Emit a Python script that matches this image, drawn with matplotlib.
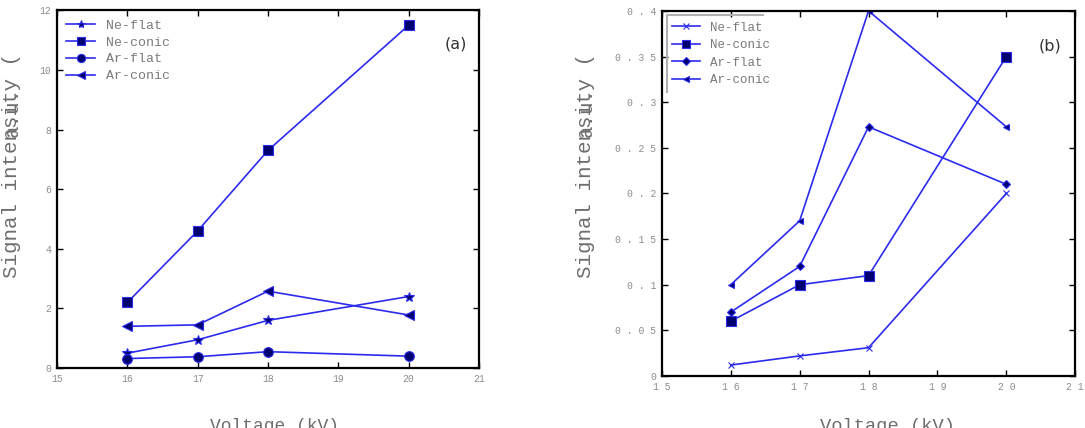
import matplotlib.pyplot as plt
from matplotlib.ticker import FuncFormatter

voltage = [16, 17, 18, 20]

# panel (a)
a_ne_flat = [0.5, 0.95, 1.6, 2.4]
a_ne_conic = [2.2, 4.6, 7.3, 11.5]
a_ar_flat = [0.32, 0.38, 0.55, 0.4]
a_ar_conic = [1.4, 1.45, 2.58, 1.78]

# panel (b)
b_ne_flat = [0.012, 0.022, 0.031, 0.2]
b_ne_conic = [0.06, 0.1, 0.11, 0.35]
b_ar_flat = [0.07, 0.12, 0.273, 0.21]
b_ar_conic = [0.1, 0.17, 0.4, 0.273]

labels = ["Ne-flat", "Ne-conic", "Ar-flat", "Ar-conic"]

plt.rcParams['font.family'] = ['Liberation Mono', 'DejaVu Sans Mono']

fig = plt.figure(figsize=(10.85, 4.28), dpi=100)
ax1 = fig.add_axes([0.0525, 0.140, 0.389, 0.836])
ax2 = fig.add_axes([0.610, 0.1215, 0.381, 0.853])

line_c = "#2b2bef"
face_c = "#000070"
tick_c = "#8c8c8c"
label_c = "#6e6e6e"


def style(ax):
    for s in ax.spines.values():
        s.set_linewidth(1.6)
    ax.tick_params(direction="in", top=True, right=True, length=4, width=1,
                   labelsize=7, labelcolor=tick_c, pad=4)


def draw(ax, series, markers, sizes):
    for ys, lab, m, ms in zip(series, labels, markers, sizes):
        ax.plot(voltage, ys, color=line_c, lw=1.2, marker=m, ms=ms,
                mfc=face_c, mec=line_c, mew=0.8, label=lab)


draw(ax1, [a_ne_flat, a_ne_conic, a_ar_flat, a_ar_conic],
     ["*", "s", "o", "<"], [7, 7, 7, 7])
ax1.set_xlim(15, 21)
ax1.set_ylim(0, 12)
ax1.set_xticks([15, 16, 17, 18, 19, 20, 21])
ax1.set_yticks([0, 2, 4, 6, 8, 10, 12])
style(ax1)
ax1.legend(loc="upper left", frameon=False, fontsize=9.5, labelcolor="#7a7a7a",
           handlelength=2.2, borderaxespad=0.3, labelspacing=0.35,
           markerscale=0.85)
ax1.text(0.945, 0.905, "(a)", transform=ax1.transAxes, fontsize=11.5,
         family="DejaVu Sans", color="#333333", ha="center", va="center")

draw(ax2, [b_ne_flat, b_ne_conic, b_ar_flat, b_ar_conic],
     ["x", "s", "D", "<"], [5, 6.5, 4.5, 5])
ax2.set_xlim(15, 21)
ax2.set_ylim(0, 0.4)
ax2.set_xticks([15, 16, 17, 18, 19, 20, 21])
ax2.set_yticks([0, 0.05, 0.1, 0.15, 0.2, 0.25, 0.3, 0.35, 0.4])
spaced = FuncFormatter(lambda v, p: " ".join("%g" % v))
ax2.xaxis.set_major_formatter(spaced)
ax2.yaxis.set_major_formatter(spaced)
style(ax2)
ax2.legend(loc="upper left", frameon=False, fontsize=9, labelcolor="#7a7a7a",
           handlelength=2.2, borderaxespad=0.45, labelspacing=0.45,
           markerscale=0.9)
# partial grey legend frame
ax2.plot([0.012, 0.012, 0.245], [0.778, 0.989, 0.989], transform=ax2.transAxes,
         color="#b0b0b0", lw=1.5, clip_on=False)
ax2.text(0.94, 0.905, "(b)", transform=ax2.transAxes, fontsize=11.5,
         family="DejaVu Sans", color="#333333", ha="center", va="center")

# axis labels (overlapping / cut off as in the original)
for x0 in (0.011, 0.540):
    fig.text(x0, 0.614, "Signal intensity (", rotation=90, fontsize=15,
             color=label_c, ha="center", va="center")
    fig.text(x0, 0.738, "a.u.", rotation=90, fontsize=15,
             color=label_c, ha="center", va="center")
fig.text(0.253, 0.024, "Voltage (kV)", fontsize=13, color=label_c,
         ha="center", va="top")
fig.text(0.818, 0.024, "Voltage (kV)", fontsize=13.5, color=label_c,
         ha="center", va="top")

fig.savefig("out.png", dpi=100)
